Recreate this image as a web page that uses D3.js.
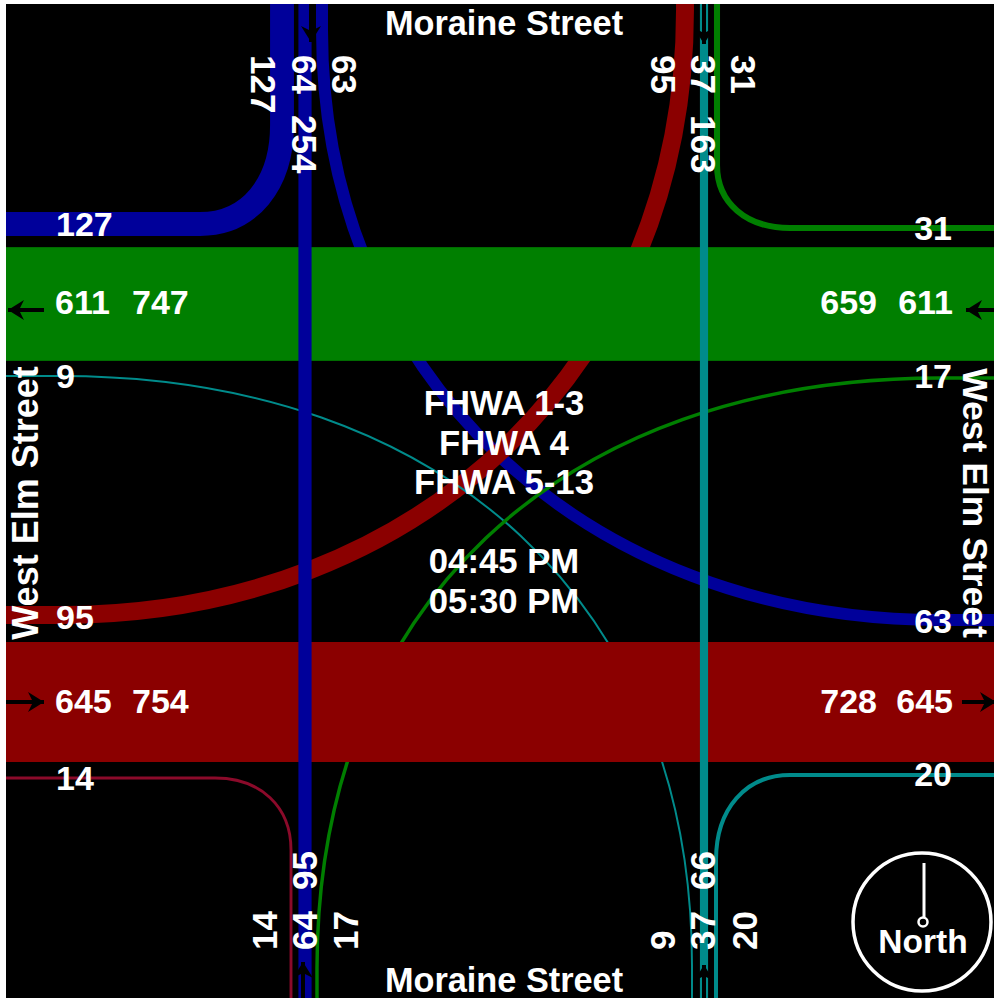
<!DOCTYPE html>
<html><head><meta charset="utf-8">
<script src="https://cdn.jsdelivr.net/npm/d3@7"></script>
<style>html,body{margin:0;padding:0;background:#fff}svg{display:block}text{font-family:"Liberation Sans",Arial,sans-serif;font-weight:700;fill:#fff}</style>
</head><body><svg id="c" width="994" height="998"></svg>
<script>
// ---- data: turning-movement volumes
const movements = ["NW","NS","NE","WN","SN","EN","WS","ES","SW","SE"];
const movementVolumes = [127,64,63,95,37,31,9,17,14,20];
const approachNames = ["westbound","eastbound"];
const approachVolumes = [611,645];
const northLabels = [["127",263,55],["64",304,55],["254",304,115],["63",344,55],["95",663,55],["37",703,55],["163",703,115],["31",743,55]];
const southLabels = [["14",265,950],["64",305,950],["95",305,890],["17",346,950],["9",663,950],["37",703,950],["66",703,890],["20",745,950]];
const westLabels = [["127",224],["9",376],["95",617],["14",778]];
const eastLabels = [["31",228],["17",376],["63",621],["20",774]];
const westBand = [["611",55,302],["747",132,302],["645",55,701],["754",132,701]];
const eastBand = [["659",877,302],["611",953,302],["728",877,701],["645",953,701]];
const centerLines = ["FHWA 1-3","FHWA 4","FHWA 5-13","","04:45 PM","05:30 PM"];
const streetNS = "Moraine Street", streetEW = "West Elm Street";

// ---- layout
const L=6,T=4,R=994,B=998,FS=34,FSV=35;
const col={blue:"#00009a",red:"#8b0000",green:"#007f00",teal:"#008b8b",dred:"#8b0a2a"};
const width=d3.scaleLinear().domain([0,645]).range([0.3,120]);
const volOf=Object.fromEntries(movements.map((m,i)=>[m,movementVolumes[i]]));
const laneX=d3.scaleOrdinal(["NW","NS","NE","WN","SN","EN","SE_","ES","SW"],[282,305,322,685,704,717,692,317,291]);
const laneY=d3.scaleOrdinal(["NW","NE","WN","EN","WS","ES","SW","SE"],[224,620,615,228,376,378,778,775]);
const sideX=d3.scalePoint().domain(["west","east"]).range([L,R]);
const bandY=d3.scaleOrdinal(approachNames,[304,702]);

const svg=d3.select("#c");
svg.append("rect").attr("width",994).attr("height",998).attr("fill","#fff");
svg.append("rect").attr("x",L).attr("y",T).attr("width",R-L).attr("height",B-T).attr("fill","#000");

function curve(x0,y0,y1s,x1s,x1,y1,k){ // vertical start at (x0,y0), straight until y1s, horizontal end at x1,y1 from x1s
  const p=d3.path();p.moveTo(x0,y0);p.lineTo(x0,y1s);
  p.bezierCurveTo(x0,y1s+(y1-y1s)*k,x1s+(x0-x1s)*k,y1,x1s,y1);p.lineTo(x1,y1);return p.toString();
}
const wX=sideX("west"),eX=sideX("east");
const paths=[
 ["NE",col.blue,curve(laneX("NE"),T,30,940,eX,laneY("NE"),.58)],
 ["WN",col.red,curve(laneX("WN"),T,10,60,wX,laneY("WN"),.58)],
 ["WS",col.teal,curve(laneX("SE_"),B,965,60,wX,laneY("WS"),.61)],
 ["ES",col.green,curve(laneX("ES"),B,968,940,eX,laneY("ES"),.61)],
 ["NW",col.blue,curve(laneX("NW"),T,125,200,wX,laneY("NW"),.6)],
 ["EN",col.green,curve(laneX("EN"),T,165,790,eX,laneY("EN"),.6)],
 ["SW",col.dred,curve(laneX("SW"),B,850,215,wX,laneY("SW"),.6)],
 ["SE",col.teal,curve(laneX("EN")-1,B,860,790,eX,laneY("SE"),.6)]
];
const under=paths.filter(d=>["NE","WN","WS","ES"].includes(d[0]));
const over=paths.filter(d=>!["NE","WN","WS","ES"].includes(d[0]));
const draw=a=>svg.append("g").attr("fill","none").selectAll("path").data(a).join("path")
  .attr("d",d=>d[2]).attr("stroke",d=>d[1]).attr("stroke-width",d=>width(volOf[d[0]]));
draw(under);
// approach bands
svg.append("g").selectAll("rect").data(approachNames).join("rect")
 .attr("x",L).attr("width",R-L)
 .attr("y",(d,i)=>bandY(d)-width(approachVolumes[i])/2)
 .attr("height",(d,i)=>width(approachVolumes[i]))
 .attr("fill",(d,i)=>i?"#8b0000":"#007f00");
draw(over);
// through lanes
svg.append("g").selectAll("line").data([["NS",col.blue],["SN",col.teal]]).join("line")
 .attr("x1",d=>laneX(d[0])).attr("x2",d=>laneX(d[0])).attr("y1",T).attr("y2",B)
 .attr("stroke",d=>d[1]).attr("stroke-width",d=>width(volOf[d[0]])+1);

// direction arrows
function arrow(x,y,rot,len){
 const g=svg.append("g").attr("transform",`translate(${x},${y}) rotate(${rot})`);
 g.append("path").attr("d",`M0,0L${-len},0`).attr("stroke","#000").attr("stroke-width",4);
 g.append("path").attr("d","M0,0L-16,-10L-11,0L-16,10Z").attr("fill","#000");
}
arrow(8,310,180,36);
arrow(44,702,0,38);
arrow(966,310,180,28);
arrow(996,702,0,34);
arrow(311,42,90,38);
arrow(704,44,90,40);
arrow(303,962,-90,36);
arrow(704,965,-90,33);

// labels
const t=(s,x,y,a,fs)=>svg.append("text").text(s).attr("x",x).attr("y",y).attr("text-anchor",a||"start").attr("font-size",fs||FS);
const rot=(s,x,y,deg,a,fs)=>svg.append("text").text(s).attr("text-anchor",a||"start").attr("font-size",fs||FSV)
  .attr("transform",`translate(${x},${y}) rotate(${deg})`);
const dy=12;
northLabels.forEach(d=>rot(d[0],d[1]-dy,d[2],90));
southLabels.forEach(d=>rot(d[0],d[1]+dy,d[2],-90));
westLabels.forEach(d=>t(d[0],56,d[1]+dy));
eastLabels.forEach(d=>t(d[0],952,d[1]+dy,"end"));
westBand.forEach(d=>t(d[0],d[1],d[2]+dy));
eastBand.forEach(d=>t(d[0],d[1],d[2]+dy,"end"));
centerLines.forEach((s,i)=>t(s,504,403+dy+i*39.6,"middle",34.7));
t(streetNS,504,35,"middle",34.3);
t(streetNS,504,992,"middle",34.3);
rot(streetEW,38,503,-90,"middle",36);
rot(streetEW,963,503,90,"middle",35.5);

// north compass
const nc=svg.append("g");
nc.append("circle").attr("cx",922).attr("cy",922).attr("r",69).attr("fill","none").attr("stroke","#fff").attr("stroke-width",3.5);
nc.append("line").attr("x1",924).attr("x2",924).attr("y1",863).attr("y2",917).attr("stroke","#fff").attr("stroke-width",3);
nc.append("circle").attr("cx",923).attr("cy",922).attr("r",4.5).attr("fill","#000").attr("stroke","#fff").attr("stroke-width",2.5);
t("North",923,953,"middle",33.5);
</script></body></html>
